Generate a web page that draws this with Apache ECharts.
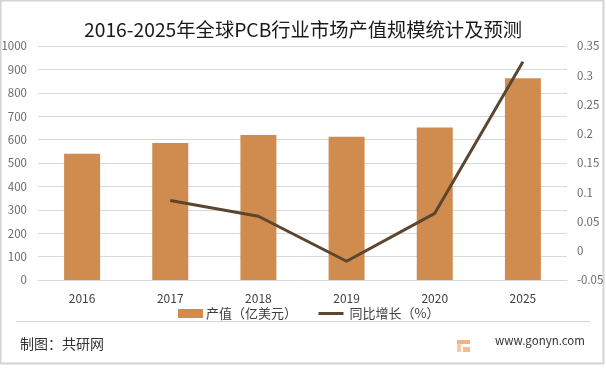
<!DOCTYPE html>
<html>
<head>
<meta charset="utf-8">
<style>html,body{margin:0;padding:0;background:#fff}#c{width:606px;height:370px}</style>
<script src="https://cdn.jsdelivr.net/npm/echarts@6/dist/echarts.min.js"></script>
</head>
<body>
<div id="c"></div>
<script>
const categories = ['2016','2017','2018','2019','2020','2025'];
const outputValues = [540,586,620,612,652,862];
const growthValues = [null,0.086,0.059,-0.018,0.064,0.323];
const titleText = '2016-2025年全球PCB行业市场产值规模统计及预测';
const seriesNames = ['产值（亿美元）','同比增长（%）'];
const sourceText = '制图：共研网';
const siteText = 'www.gonyn.com';
const font = '"Noto Sans CJK SC","Noto Sans",sans-serif';
const chart = echarts.init(document.getElementById('c'), null, {renderer:'canvas'});
chart.setOption({
  animation:false,
  backgroundColor:'#fff',
  textStyle:{fontFamily:font},
  title:{text:titleText,left:'center',top:15,textStyle:{fontSize:19.3,fontWeight:'normal',color:'#1a1a1a',fontFamily:font}},
  grid:{left:38,right:39,top:46,bottom:90,containLabel:false,outerBoundsMode:'none'},
  legend:{
    left:173,top:302,itemGap:20,itemWidth:25,itemHeight:9,
    textStyle:{fontSize:13,color:'#404040',fontFamily:font,padding:[0,0,0,-2]},
    data:[
      {name:seriesNames[0],icon:'rect'},
      {name:seriesNames[1],itemStyle:{opacity:0},lineStyle:{color:'#5b4630',width:3,opacity:1},
       textStyle:{fontSize:13,color:'#404040',fontFamily:font,padding:[0,0,0,1]}}
    ]
  },
  xAxis:{type:'category',data:categories,
    axisLine:{show:true,lineStyle:{color:'#d9d9d9',width:1}},axisTick:{show:false},
    axisLabel:{color:'#404040',fontSize:12,margin:12,fontFamily:font}},
  yAxis:[
    {type:'value',min:0,max:1000,interval:100,
      axisLine:{show:false},axisTick:{show:false},
      splitLine:{lineStyle:{color:'#d9d9d9',width:1}},
      axisLabel:{color:'#6a6a6a',fontSize:11.5,margin:11,fontFamily:font,formatter:function(v){return String(v);}}},
    {type:'value',min:-0.05,max:0.35,interval:0.05,
      axisLine:{show:false},axisTick:{show:false},splitLine:{show:false},
      axisLabel:{color:'#6a6a6a',fontSize:11.5,margin:10,fontFamily:font}}
  ],
  series:[
    {name:seriesNames[0],type:'bar',yAxisIndex:0,data:outputValues,barWidth:36,itemStyle:{color:'#d08c4f'}},
    {name:seriesNames[1],type:'line',yAxisIndex:1,data:growthValues,showSymbol:false,symbol:'none',
      lineStyle:{color:'#5b4630',width:3},itemStyle:{color:'#5b4630'}}
  ],
  graphic:[
    {type:'rect',silent:true,z:-1,shape:{x:0.5,y:0.5,width:603,height:363},style:{fill:'none',stroke:'#d4d4d4',lineWidth:2}},
    {type:'line',silent:true,shape:{x1:16,y1:321.5,x2:590,y2:321.5},style:{stroke:'#d4d4d4',lineWidth:1}},
    {type:'text',left:20,top:337,style:{text:sourceText,fontSize:14,fill:'#333',fontFamily:font}},
    {type:'text',left:495,top:335,style:{text:siteText,fontSize:11.5,fill:'#333',fontFamily:font}},
    {type:'rect',silent:true,shape:{x:457,y:340,width:13,height:4},style:{fill:'#ef9a5a',opacity:.75}},
    {type:'rect',silent:true,shape:{x:457,y:344,width:4,height:8},style:{fill:'#f5b98a',opacity:.75}},
    {type:'rect',silent:true,shape:{x:463,y:347,width:7,height:5},style:{fill:'#f0a468',opacity:.75}}
  ]
});
</script>
</body>
</html>
